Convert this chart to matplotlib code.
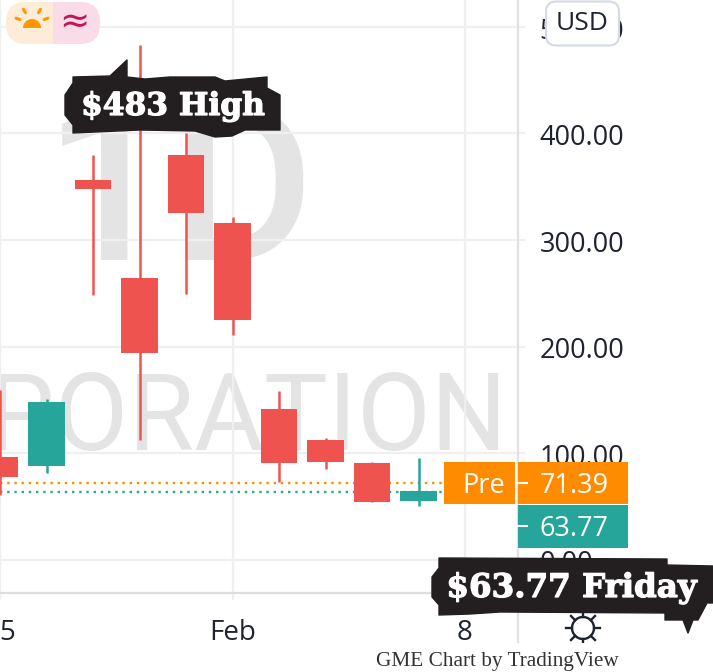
import matplotlib
matplotlib.use("Agg")
import matplotlib.pyplot as plt
import matplotlib.patheffects as pe
from matplotlib.patches import Rectangle, Polygon, FancyBboxPatch, Wedge, Circle
import numpy as np

W, H = 713, 672
# Data
days = [0, 1, 2, 3, 4, 5, 6, 7, 8, 9]
opens = [77, 148, 348, 194, 325, 225, 91, 92, 54, 64]
closes = [96, 88, 356, 264, 380, 316, 141, 112, 91, 55]
highs = [159, 151, 380, 483, 400, 322, 158, 114, 92, 95]
lows = [61, 81, 248, 112, 249, 211, 73, 85, 54, 50]
price_ticks = [0, 100, 200, 300, 400, 500]
price_labels = ["0.00", "100.00", "200.00", "300.00", "400.00", "500.00"]
date_ticks = [0, 5, 10]
date_labels = ["25", "Feb", "8"]
pre_price = 71.39
last_price = 63.77

RED, TEAL, ORANGE = "#EF5350", "#26A69A", "#FF8C00"
GRID, TXT = "#EFEFF1", "#1F2230"
UI = ["Open Sans", "DejaVu Sans"]
PX_DAY = 46.5
PX_USD = 1.065

fig = plt.figure(figsize=(W / 100, H / 100), dpi=100, facecolor="white")

# Price chart: x in trading days, y in dollars
ax = fig.add_axes([0, 0, 1, 1], zorder=1)
ax.set_xlim(0, W / PX_DAY)
ax.set_ylim((559.5 - H) / PX_USD, 559.5 / PX_USD)
ax.axis("off")

# Pixel overlay for interface furniture
ov = fig.add_axes([0, 0, 1, 1], zorder=2)
ov.set_xlim(0, W)
ov.set_ylim(H, 0)
ov.axis("off")
ov.patch.set_alpha(0)

AX_R = 518 / PX_DAY
AX_B = (559.5 - 593) / PX_USD

# Watermark
ax.text(180 / PX_DAY, (559.5 - 199) / PX_USD, "1D", color="#E4E4E4", fontsize=160, family="Roboto",
        weight="medium", ha="center", va="center", zorder=1)
ax.text(507 / PX_DAY, (559.5 - 421) / PX_USD, "RPORATION", color="#E4E4E4", fontsize=77, family="Roboto",
        ha="right", va="center", zorder=1)

# Grid
for p in price_ticks:
    ax.plot([0, AX_R + 0.13], [p, p], color=GRID, lw=1.6, zorder=2)
for d in date_ticks:
    ax.plot([d, d], [AX_B - 6, 540], color=GRID, lw=1.6, zorder=2)
ax.plot([0, AX_R], [AX_B, AX_B], color="#DDDDE0", lw=1.6, zorder=2)
ax.plot([AX_R, AX_R], [AX_B - 70, 540], color="#E2E2E5", lw=1.6, zorder=2)

# Price lines
dots = (0, (1, 2.05))
ax.plot([0, 9.55], [pre_price] * 2, ls=dots, color=ORANGE, lw=1.7, zorder=3)
ax.plot([0, 9.55], [last_price] * 2, ls=dots, color=TEAL, lw=1.7, zorder=3)

# Candles
for d, o, c, hi, lo in zip(days, opens, closes, highs, lows):
    col = TEAL if c < o else RED
    ax.plot([d, d], [lo, hi], color=col, lw=1.8, solid_capstyle="butt", zorder=4)
    ax.bar(d, abs(c - o), bottom=min(o, c), width=0.79, color=col, zorder=5)

# Axis labels
for p, s in zip(price_ticks, price_labels):
    ax.text(539.5 / PX_DAY, p - 4.5, s, color=TXT, fontsize=19.5, family=UI, ha="left", va="center", zorder=6)
for d, s in zip(date_ticks, date_labels):
    ax.text(d, (559.5 - 633) / PX_USD, s, color=TXT, fontsize=20, family=UI, ha="center", va="center", zorder=6)

# Price tags
ov.add_patch(Rectangle((443.5, 461.5), 71.5, 42.5, color=ORANGE, zorder=3, lw=0))
ov.add_patch(Rectangle((518, 461.5), 110, 42.5, color=ORANGE, zorder=3, lw=0))
ov.add_patch(Rectangle((518, 505), 110, 43, color=TEAL, zorder=3, lw=0))
ov.text(483.5, 486, "Pre", color="white", fontsize=19.5, family=UI, ha="center", va="center", zorder=4)
ov.text(574, 486, f"{pre_price:.2f}", color="white", fontsize=19.5, family=UI, ha="center", va="center", zorder=4)
ov.text(574, 529, f"{last_price:.2f}", color="white", fontsize=19.5, family=UI, ha="center", va="center", zorder=4)
ov.plot([518, 527], [483, 483], color="white", lw=1.5, zorder=4)
ov.plot([518, 527], [526, 526], color="white", lw=1.5, zorder=4)

# USD button
ov.add_patch(FancyBboxPatch((546, 1.5), 73, 44, boxstyle="round,pad=0,rounding_size=10",
                            fc="white", ec="#D5D9E6", lw=1.5, zorder=5))
ov.text(582.5, 24, "USD", color=TXT, fontsize=19, family=UI, ha="center", va="center", zorder=6)

# Weather / sessions pill
pill = FancyBboxPatch((6, 2), 94, 42, boxstyle="round,pad=0,rounding_size=20", fc="none", ec="none", zorder=5)
ov.add_patch(pill)
left = Rectangle((0, 0), 53, 50, fc="#FDEDD8", lw=0, zorder=5)
right = Rectangle((53, 0), 60, 50, fc="#F9DCE8", lw=0, zorder=5)
ov.add_patch(left)
ov.add_patch(right)
left.set_clip_path(pill)
right.set_clip_path(pill)
ov.add_patch(Wedge((32, 28), 9, 180, 360, fc="#FF9800", lw=0, zorder=6))
for a in [-160, -120, -60, -20]:
    r = np.deg2rad(a)
    ov.plot([32 + 13 * np.cos(r), 32 + 17 * np.cos(r)], [24 + 13 * np.sin(r), 24 + 17 * np.sin(r)],
            color="#FF9800", lw=2.2, zorder=6, solid_capstyle="round")
ov.text(74.5, 23, "≈", color="#C2185B", fontsize=26, family="DejaVu Sans", ha="center", va="center", zorder=6)

# Settings cog
ov.add_patch(Circle((583, 628), 11, fc="none", ec=TXT, lw=1.7, zorder=3))
for a in range(0, 360, 45):
    r = np.deg2rad(a)
    ov.plot([583 + 11 * np.cos(r), 583 + 17 * np.cos(r)], [628 + 11 * np.sin(r), 628 + 17 * np.sin(r)],
            color=TXT, lw=1.7, zorder=3)

# Callouts
blob1 = [(73, 77), (110, 76), (127, 60), (127, 77), (145, 79), (170, 77), (215, 77), (225, 81), (267, 77),
         (267, 88), (280, 95), (280, 130), (245, 130), (232, 136), (215, 137), (195, 131), (140, 130),
         (73, 133), (73, 125), (65, 115), (65, 95), (73, 83)]
blob2 = [(439, 558), (667, 559), (667, 565), (713, 566), (713, 603), (707, 603), (698, 620), (693, 620),
         (688, 633), (683, 620), (665, 620), (665, 613), (500, 612), (470, 614), (439, 615), (439, 605),
         (432, 597), (432, 577), (439, 568)]
ov.add_patch(Polygon(blob1, closed=True, fc="#231F20", ec="#231F20", lw=1, joinstyle="round", zorder=8))
ov.add_patch(Polygon(blob2, closed=True, fc="#231F20", ec="#231F20", lw=1, joinstyle="round", zorder=8))
heavy = [pe.withStroke(linewidth=0.9, foreground="white")]
ov.text(173, 106.5, "$483 High", color="white", fontsize=22.5, weight="bold", family="DejaVu Serif",
        ha="center", va="center", zorder=9, path_effects=heavy)
ov.text(571.5, 588.5, "$63.77 Friday", color="white", fontsize=23.4, weight="bold", family="DejaVu Serif",
        ha="center", va="center", zorder=9, path_effects=heavy)

# Credit
ov.add_patch(Rectangle((0, 643), W, 29, fc="white", lw=0, zorder=7))
ov.text(497, 661.5, "GME Chart by TradingView", color="#333333", fontsize=15.3, family="Liberation Serif",
        ha="center", va="center", zorder=9)

fig.savefig("out.png", dpi=100, facecolor="white")
